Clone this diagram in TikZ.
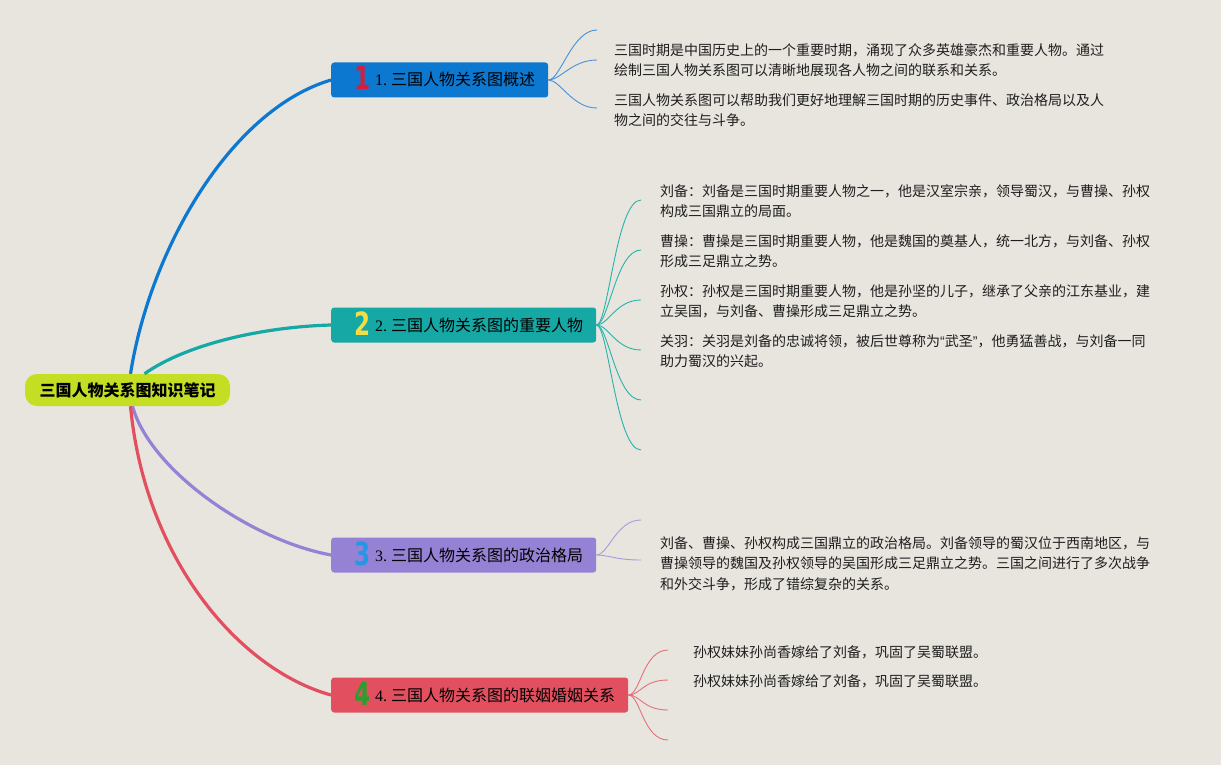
\documentclass[tikz,border=0pt]{standalone}
\usepackage{fontspec}
\setmainfont{Liberation Serif}
\newfontfamily\cjk{Noto Sans CJK SC}
\newfontfamily\numfont{DejaVu Sans}[FakeStretch=0.72]
\newfontfamily\lat{Liberation Sans}
\definecolor{bgc}{RGB}{232,229,223}
\definecolor{rootc}{RGB}{196,222,36}
\definecolor{cA}{RGB}{12,120,208}
\definecolor{cB}{RGB}{22,168,164}
\definecolor{cC}{RGB}{150,130,212}
\definecolor{cD}{RGB}{226,80,96}
\definecolor{lA}{RGB}{70,145,215}
\definecolor{lB}{RGB}{40,178,172}
\definecolor{lC}{RGB}{172,152,222}
\definecolor{lD}{RGB}{228,112,124}
\definecolor{nA}{RGB}{214,30,60}
\definecolor{nB}{RGB}{242,222,70}
\definecolor{nC}{RGB}{40,150,230}
\definecolor{nD}{RGB}{40,160,45}
\definecolor{txt}{RGB}{30,30,30}
\newcommand{\bnum}[2]{\raisebox{-4pt}{\smash{\numfont\bfseries\fontsize{32}{32}\selectfont\color{#1}#2}}}
\begin{document}
\begin{tikzpicture}[x=1pt,y=-1pt,
  rootbox/.style={fill=rootc, rounded corners=12pt, minimum width=205pt, minimum height=32pt, inner sep=0pt, font=\cjk\bfseries\fontsize{16}{18}\selectfont, text=black},
  branchbox/.style={rounded corners=3pt, minimum height=35pt, inner sep=0pt, text height=16pt, text depth=4pt, anchor=west, font=\fontsize{16}{18}\selectfont, text=black},
  main/.style={line width=3.2pt},
  leafline/.style={line width=0.9pt},
  leaftext/.style={anchor=north west, inner sep=0pt, align=left, text=txt, font=\cjk\fontsize{14}{20.5}\selectfont}
]
\fill[bgc] (0,0) rectangle (1221,765);
\useasboundingbox (0,0) rectangle (1221,765);

\node[rootbox] (root) at (127.5,390) {三国人物关系图知识笔记};

\node[branchbox, fill=cA] (b1) at (331,80) {\kern23pt\bnum{nA}{1}\kern5pt1.~{\cjk 三国人物关系图概述}\kern13pt};
\node[branchbox, fill=cB] (b2) at (331,325) {\kern23pt\bnum{nB}{2}\kern5pt2.~{\cjk 三国人物关系图的重要人物}\kern13pt};
\node[branchbox, fill=cC] (b3) at (331,555) {\kern23pt\bnum{nC}{3}\kern5pt3.~{\cjk 三国人物关系图的政治格局}\kern13pt};
\node[branchbox, fill=cD] (b4) at (331,695) {\kern23pt\bnum{nD}{4}\kern5pt4.~{\cjk 三国人物关系图的联姻婚姻关系}\kern13pt};

\draw[main, cA] ([xshift=3pt]root.north) .. controls (150,250) and (230,110) .. (b1.west);
\draw[main, cB] ([xshift=17pt]root.north) .. controls (185,345) and (260,327) .. (b2.west);
\draw[main, cC] ([xshift=5pt]root.south) .. controls (150,470) and (250,540) .. (b3.west);
\draw[main, cD] ([xshift=3pt]root.south) .. controls (145,560) and (240,670) .. (b4.west);

% leaf endpoints
\coordinate (e11) at (597,30);
\coordinate (e12) at (597,60);
\coordinate (e13) at (597,108);
\foreach \i/\y in {1/200,2/250,3/300,4/350,5/400,6/450} {\coordinate (e2\i) at (641,\y);}
\coordinate (e31) at (641,520);
\coordinate (e32) at (641,560);
\foreach \i/\y in {1/650,2/680,3/710,4/740} {\coordinate (e4\i) at (668,\y);}

\foreach \e in {e11,e12,e13} {\draw[leafline, lA] (b1.east) .. controls +(12,0) and +(-25,0) .. (\e);}
\foreach \e in {e21,e22,e23,e24,e25,e26} {\draw[leafline, lB] (b2.east) .. controls +(12,0) and +(-25,0) .. (\e);}
\foreach \e in {e31,e32} {\draw[leafline, lC] (b3.east) .. controls +(12,0) and +(-25,0) .. (\e);}
\foreach \e in {e41,e42,e43,e44} {\draw[leafline, lD] (b4.east) .. controls +(12,0) and +(-25,0) .. (\e);}

\node[leaftext] (t11) at (614,43) {三国时期是中国历史上的一个重要时期，涌现了众多英雄豪杰和重要人物。通过\\绘制三国人物关系图可以清晰地展现各人物之间的联系和关系。};
\node[leaftext] (t12) at (614,93) {三国人物关系图可以帮助我们更好地理解三国时期的历史事件、政治格局以及人\\物之间的交往与斗争。};

\node[leaftext] (t21) at (660,184) {刘备：刘备是三国时期重要人物之一，他是汉室宗亲，领导蜀汉，与曹操、孙权\\构成三国鼎立的局面。};
\node[leaftext] (t22) at (660,234) {曹操：曹操是三国时期重要人物，他是魏国的奠基人，统一北方，与刘备、孙权\\形成三足鼎立之势。};
\node[leaftext] (t23) at (660,284) {孙权：孙权是三国时期重要人物，他是孙坚的儿子，继承了父亲的江东基业，建\\立吴国，与刘备、曹操形成三足鼎立之势。};
\node[leaftext] (t24) at (660,334) {关羽：关羽是刘备的忠诚将领，被后世尊称为{\lat “}武圣{\lat ”}，他勇猛善战，与刘备一同\\助力蜀汉的兴起。};

\node[leaftext] (t31) at (660,536) {刘备、曹操、孙权构成三国鼎立的政治格局。刘备领导的蜀汉位于西南地区，与\\曹操领导的魏国及孙权领导的吴国形成三足鼎立之势。三国之间进行了多次战争\\和外交斗争，形成了错综复杂的关系。};

\node[leaftext] (t41) at (693,645) {孙权妹妹孙尚香嫁给了刘备，巩固了吴蜀联盟。};
\node[leaftext] (t42) at (693,674) {孙权妹妹孙尚香嫁给了刘备，巩固了吴蜀联盟。};
\end{tikzpicture}
\end{document}
